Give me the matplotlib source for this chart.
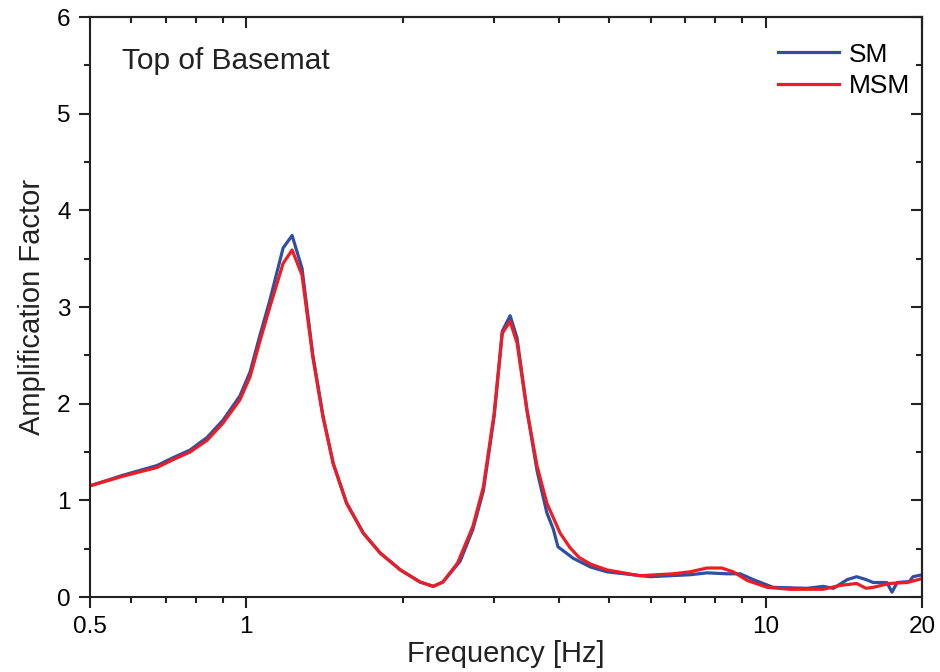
import matplotlib
matplotlib.use('Agg')
import matplotlib.pyplot as plt
from matplotlib.ticker import FixedLocator, NullFormatter, FixedFormatter

plt.rcParams['font.family'] = ['Liberation Sans', 'DejaVu Sans']

# SM (blue) curve
sm_freq = [0.5, 0.579, 0.673, 0.722, 0.779, 0.84, 0.902, 0.972, 1.017, 1.06,
           1.11, 1.177, 1.225, 1.28, 1.343, 1.405, 1.47, 1.56, 1.68, 1.81,
           1.98, 2.16, 2.29, 2.39, 2.58, 2.73, 2.86, 3.0, 3.11, 3.22,
           3.32, 3.47, 3.63, 3.79, 3.90, 3.98, 4.26, 4.6, 4.95, 5.99, 7.14,
           7.71, 8.42, 8.93, 9.46, 10.33, 12.0, 12.9, 13.5, 14.35, 14.96,
           15.6, 16.1, 17.1, 17.5, 17.9, 18.9, 19.2, 20.0]
sm_amp = [1.15, 1.26, 1.36, 1.44, 1.52, 1.65, 1.83, 2.08, 2.33, 2.69,
          3.07, 3.61, 3.74, 3.40, 2.50, 1.87, 1.38, 0.97, 0.66, 0.455,
          0.28, 0.155, 0.11, 0.155, 0.37, 0.70, 1.10, 1.87, 2.75, 2.91,
          2.68, 1.93, 1.30, 0.87, 0.70, 0.52, 0.40, 0.31, 0.26, 0.21, 0.23,
          0.25, 0.24, 0.24, 0.18, 0.10, 0.09, 0.11, 0.09, 0.18, 0.21,
          0.18, 0.15, 0.15, 0.05, 0.15, 0.16, 0.21, 0.23]

# MSM (red) curve
msm_freq = [0.5, 0.579, 0.673, 0.722, 0.779, 0.84, 0.902, 0.972, 1.017, 1.06,
            1.11, 1.177, 1.225, 1.28, 1.343, 1.405, 1.47, 1.56, 1.68, 1.81,
            1.98, 2.16, 2.29, 2.39, 2.55, 2.73, 2.86, 3.0, 3.11, 3.22,
            3.32, 3.47, 3.63, 3.79, 4.02, 4.2, 4.37, 4.6, 4.95, 5.72, 6.63, 7.14,
            7.71, 8.23, 8.66, 9.22, 10.07, 11.1, 12.9, 13.9, 14.96, 15.6,
            16.1, 17.3, 18.7, 20.0]
msm_amp = [1.15, 1.25, 1.34, 1.42, 1.50, 1.62, 1.80, 2.04, 2.28, 2.63,
           3.0, 3.45, 3.59, 3.33, 2.48, 1.86, 1.38, 0.97, 0.66, 0.455,
           0.28, 0.155, 0.11, 0.155, 0.35, 0.73, 1.14, 1.90, 2.73, 2.85,
           2.63, 1.93, 1.35, 0.97, 0.66, 0.51, 0.41, 0.34, 0.28, 0.22, 0.24, 0.26,
           0.30, 0.30, 0.26, 0.17, 0.10, 0.08, 0.08, 0.12, 0.14, 0.09,
           0.10, 0.14, 0.15, 0.19]

x_major = [0.5, 1, 10, 20]
x_major_labels = ["0.5", "1", "10", "20"]
x_minor = [0.6, 0.7, 0.8, 0.9, 2, 3, 4, 5, 6, 7, 8, 9]

fig = plt.figure(figsize=(9.4, 6.72), dpi=100)
ax = fig.add_axes([0.0957, 0.1116, 0.8853, 0.8631])

ax.plot(sm_freq, sm_amp, color='#2f4fa2', linewidth=2.3, label='SM')
ax.plot(msm_freq, msm_amp, color='#ee1c25', linewidth=2.3, label='MSM')

ax.set_xscale('log')
ax.set_xlim(0.5, 20)
ax.set_ylim(0, 6)
ax.xaxis.set_major_locator(FixedLocator(x_major))
ax.xaxis.set_major_formatter(FixedFormatter(x_major_labels))
ax.xaxis.set_minor_locator(FixedLocator(x_minor))
ax.xaxis.set_minor_formatter(NullFormatter())
ax.set_yticks([0, 1, 2, 3, 4, 5, 6])
ax.set_yticks([0.5, 1.5, 2.5, 3.5, 4.5, 5.5], minor=True)

for s in ax.spines.values():
    s.set_linewidth(1.5)
    s.set_color('#222222')

ax.tick_params(which='major', length=8, width=1.5, labelsize=17.5, color='#222222')
ax.tick_params(which='minor', length=4.5, width=1.5, color='#222222')
ax.tick_params(axis='x', which='both', direction='out', top=False, pad=6)
ax.tick_params(axis='y', which='both', direction='out', right=False, pad=6)

# inward ticks on top and right
secx = ax.secondary_xaxis('top')
secx.xaxis.set_major_locator(FixedLocator(x_major))
secx.xaxis.set_minor_locator(FixedLocator(x_minor))
secx.tick_params(which='both', direction='in', labeltop=False, width=1.5, color='#222222')
secx.tick_params(which='major', length=8)
secx.tick_params(which='minor', length=4.5)
secx.spines['top'].set_linewidth(1.5)
secy = ax.secondary_yaxis('right')
secy.set_yticks([0, 1, 2, 3, 4, 5, 6])
secy.set_yticks([0.5, 1.5, 2.5, 3.5, 4.5, 5.5], minor=True)
secy.tick_params(which='both', direction='in', labelright=False, width=1.5, color='#222222')
secy.tick_params(which='major', length=8)
secy.tick_params(which='minor', length=4.5)
secy.spines['right'].set_linewidth(1.5)

ax.set_xlabel("Frequency [Hz]", fontsize=21, labelpad=1, color='#222222')
ax.set_ylabel("Amplification Factor", fontsize=21, labelpad=8, color='#222222')
ax.text(0.038, 0.925, "Top of Basemat", transform=ax.transAxes, fontsize=21.5,
        color='#222222', va='center', ha='left')

ax.legend(loc='upper right', bbox_to_anchor=(1.021, 1.006), fontsize=19,
          frameon=False, handlelength=2.3, handletextpad=0.4, labelspacing=0.3,
          borderaxespad=0.7)

plt.savefig("out.png", dpi=100)
plt.close(fig)
